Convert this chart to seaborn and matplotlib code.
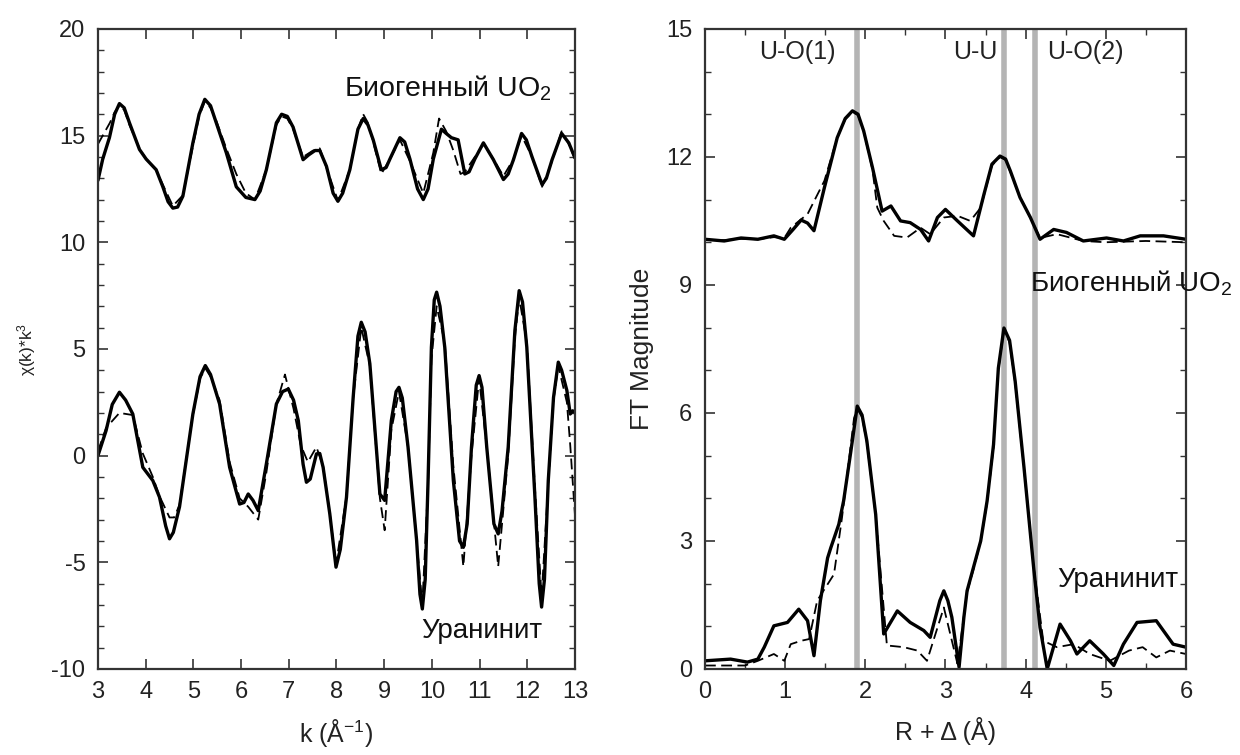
import numpy as np
import pandas as pd
import matplotlib
matplotlib.use("Agg")
import matplotlib.pyplot as plt
import seaborn as sns
from matplotlib.ticker import MultipleLocator

# --- EXAFS chi(k)*k^3, biogenic UO2 (offset curve on top) ---
k_bio = [3.0, 3.1, 3.24, 3.35, 3.45, 3.55, 3.66, 3.87, 4.01, 4.22, 4.36, 4.47, 4.57, 4.67, 4.78,
         4.99, 5.12, 5.24, 5.36, 5.48, 5.69, 5.9, 6.1, 6.29, 6.4, 6.53, 6.74, 6.85, 6.97, 7.09,
         7.30, 7.42, 7.55, 7.65, 7.79, 7.93, 8.03, 8.13, 8.28, 8.45, 8.56, 8.66, 8.77, 8.94, 9.04,
         9.12, 9.33, 9.43, 9.54, 9.7, 9.82, 9.92, 10.03, 10.2, 10.3, 10.41, 10.55, 10.69, 10.78,
         10.9, 11.08, 11.29, 11.5, 11.6, 11.71, 11.88, 11.98, 12.1, 12.31, 12.4, 12.52, 12.72,
         12.87, 13.0]
chi_bio = [12.9, 13.9, 14.9, 16.0, 16.5, 16.3, 15.6, 14.35, 13.9, 13.4, 12.6, 11.9, 11.6, 11.65, 12.16,
           14.66, 16.0, 16.7, 16.4, 15.6, 14.2, 12.6, 12.1, 12.0, 12.4, 13.4, 15.6, 16.0, 15.9, 15.4,
           13.87, 14.1, 14.3, 14.3, 13.56, 12.3, 11.92, 12.3, 13.4, 15.3, 15.8, 15.5, 14.8, 13.4, 13.5,
           13.9, 14.9, 14.7, 13.9, 12.5, 12.0, 12.5, 13.9, 15.3, 15.1, 14.9, 14.8, 13.2, 13.3,
           13.9, 14.66, 13.87, 12.94, 13.2, 13.87, 15.1, 14.8, 14.0, 12.7, 13.0, 13.87, 15.1,
           14.66, 13.95]

k_bio_fit = [3.0, 3.1, 3.25, 3.35, 3.45, 3.55, 3.66, 3.87, 4.01, 4.22, 4.36, 4.57, 4.78, 4.99, 5.12,
             5.24, 5.36, 5.48, 5.69, 5.9, 6.1, 6.29, 6.53, 6.74, 6.85, 6.97, 7.09, 7.30, 7.51, 7.65,
             7.79, 8.03, 8.28, 8.45, 8.56, 8.66, 8.77, 8.94, 9.12, 9.33, 9.54, 9.82, 10.03, 10.15,
             10.3, 10.45, 10.6, 10.69, 10.9, 11.08, 11.29, 11.5, 11.71, 11.88, 12.1, 12.31, 12.52,
             12.72, 12.87, 13.0]
chi_bio_fit = [14.6, 15.0, 15.6, 16.1, 16.4, 16.2, 15.5, 14.4, 13.9, 13.4, 12.7, 11.7, 12.2, 14.5, 15.9,
               16.6, 16.3, 15.7, 14.4, 13.2, 12.3, 12.0, 13.4, 15.5, 15.9, 15.8, 15.3, 14.0, 14.3, 14.4,
               13.5, 11.95, 13.4, 15.3, 16.0, 15.6, 14.7, 13.2, 13.9, 14.8, 13.8, 12.3, 14.2, 15.8,
               15.2, 14.3, 13.2, 13.3, 14.0, 14.6, 13.9, 13.1, 13.9, 15.0, 14.0, 12.6, 13.8,
               15.2, 14.6, 13.9]

# --- uraninite ---
k_ur = [3.0, 3.17, 3.3, 3.45, 3.58, 3.73, 3.94, 4.15, 4.29, 4.42, 4.5, 4.58, 4.71, 4.99, 5.14,
        5.25, 5.36, 5.55, 5.76, 5.97, 6.06, 6.15, 6.25, 6.36, 6.53, 6.74, 6.87, 6.99, 7.1, 7.2,
        7.3, 7.37, 7.45, 7.58, 7.65, 7.72, 7.86, 7.99, 8.08, 8.21, 8.35, 8.45, 8.52, 8.6, 8.7,
        8.91, 9.01, 9.15, 9.25, 9.31, 9.38, 9.5, 9.68, 9.75, 9.8, 9.86, 9.92, 9.99, 10.05, 10.1,
        10.17, 10.27, 10.45, 10.58, 10.66, 10.74, 10.83, 10.93, 10.99, 11.05, 11.15, 11.3, 11.39,
        11.47, 11.6, 11.74, 11.83, 11.9, 11.99, 12.16, 12.25, 12.3, 12.36, 12.44, 12.55, 12.65,
        12.72, 12.83, 12.9, 12.95, 13.0]
chi_ur = [0.0, 1.17, 2.4, 2.97, 2.6, 1.95, -0.55, -1.17, -1.95, -3.3, -3.9, -3.6, -2.4, 1.95, 3.7,
          4.22, 3.8, 2.42, -0.55, -2.27, -2.2, -1.8, -2.1, -2.58, -0.39, 2.42, 3.0, 3.12, 2.6, 1.64,
          -0.4, -1.25, -1.1, 0.08, 0.1, -0.55, -2.73, -5.23, -4.4, -1.95, 2.73, 5.6, 6.25, 5.8, 4.3,
          -1.8, -2.1, 1.64, 3.0, 3.2, 2.7, 0.4, -3.98, -6.5, -7.19, -5.8, -1.17, 5.08, 7.3, 7.66,
          7.0, 5.08, -1.17, -4.0, -4.3, -3.2, 0.4, 3.3, 3.75, 3.2, 0.4, -3.2, -3.67,
          -2.6, 0.4, 5.86, 7.73, 7.2, 5.08, -1.95, -6.0, -7.1, -5.8, -1.17, 2.73, 4.38,
          4.0, 3.05, 1.95, 2.1, 2.03]

k_ur_fit = [3.0, 3.17, 3.45, 3.73, 3.94, 4.15, 4.29, 4.5, 4.6, 4.71, 4.99, 5.14, 5.25, 5.36, 5.55,
            5.76, 5.97, 6.15, 6.36, 6.53, 6.74, 6.92, 7.1, 7.25, 7.4, 7.58, 7.72, 7.86, 7.99, 8.21,
            8.35, 8.52, 8.7, 8.91, 9.01, 9.15, 9.31, 9.5, 9.68, 9.8, 9.92, 9.99, 10.1, 10.27, 10.45,
            10.66, 10.83, 10.99, 11.15, 11.39, 11.6, 11.74, 11.83, 11.99, 12.16, 12.3, 12.44, 12.55,
            12.65, 12.83, 12.9, 13.0]
chi_ur_fit = [0.2, 1.3, 2.0, 1.9, 0.1, -1.0, -1.9, -2.9, -2.9, -2.3, 1.9, 3.6, 4.1, 3.7, 2.6,
              -0.3, -2.0, -2.4, -3.0, -0.8, 2.4, 3.8, 2.2, 0.5, -0.3, 0.4, -0.5, -2.7, -5.1, -1.9,
              2.7, 6.0, 4.2, -2.0, -3.5, 1.2, 3.0, 0.4, -4.0, -7.0, -1.3, 4.5, 7.0, 5.3, -0.5,
              -5.2, 0.0, 3.6, 0.4, -5.2, 0.0, 5.5, 7.4, 5.3, -1.5, -6.6, -1.3, 2.6,
              4.2, 2.5, 0.5, -2.8]

# --- Fourier transform magnitude ---
r_bio = [0.0, 0.24, 0.45, 0.66, 0.86, 0.99, 1.1, 1.2, 1.28, 1.36, 1.49, 1.65, 1.75, 1.84, 1.91,
         1.98, 2.09, 2.21, 2.32, 2.44, 2.56, 2.69, 2.79, 2.9, 3.0, 3.15, 3.35, 3.48, 3.58, 3.68,
         3.75, 3.81, 3.93, 4.06, 4.18, 4.35, 4.51, 4.72, 5.01, 5.22, 5.43, 5.72, 6.0]
ft_bio = [10.07, 10.03, 10.1, 10.07, 10.15, 10.07, 10.3, 10.52, 10.45, 10.27, 11.28, 12.45, 12.9, 13.08, 13.0,
          12.61, 11.75, 10.73, 10.85, 10.5, 10.46, 10.3, 10.03, 10.58, 10.77, 10.5, 10.15, 11.12, 11.83, 12.02,
          11.95, 11.67, 11.05, 10.58, 10.07, 10.3, 10.23, 10.03, 10.1, 10.03, 10.15, 10.15, 10.07]

r_bio_fit = [0.0, 0.24, 0.45, 0.66, 0.86, 0.99, 1.07, 1.28, 1.49, 1.65, 1.75, 1.84, 1.91, 1.98, 2.09,
             2.15, 2.23, 2.36, 2.52, 2.69, 2.81, 2.98, 3.15, 3.31, 3.44, 3.58, 3.68, 3.75, 3.81, 3.93,
             4.06, 4.18, 4.39, 4.72, 5.0, 5.5, 6.0]
ft_bio_fit = [10.05, 10.05, 10.08, 10.07, 10.12, 10.1, 10.34, 10.66, 11.44, 12.45, 12.88, 13.05, 12.98, 12.6, 11.7,
              10.81, 10.5, 10.15, 10.11, 10.34, 10.19, 10.58, 10.62, 10.5, 10.81, 11.8, 12.0, 11.93, 11.65, 11.05,
              10.58, 10.1, 10.19, 10.03, 10.0, 10.03, 10.0]

r_ur = [0.0, 0.32, 0.53, 0.66, 0.74, 0.86, 1.03, 1.17, 1.28, 1.36, 1.44, 1.53, 1.57, 1.67, 1.73,
        1.82, 1.9, 1.96, 2.02, 2.13, 2.23, 2.4, 2.56, 2.73, 2.81, 2.93, 2.98, 3.03, 3.08, 3.17,
        3.23, 3.27, 3.36, 3.44, 3.52, 3.6, 3.66, 3.73, 3.8, 3.87, 3.98, 4.1, 4.18, 4.27, 4.43,
        4.56, 4.64, 4.8, 4.97, 5.1, 5.22, 5.39, 5.63, 5.84, 6.0]
ft_ur = [0.19, 0.23, 0.16, 0.23, 0.51, 1.01, 1.09, 1.4, 1.13, 0.31, 1.6, 2.6, 2.84, 3.39, 3.94,
         5.1, 6.16, 5.95, 5.34, 3.62, 0.82, 1.36, 1.09, 0.9, 0.74, 1.6, 1.83, 1.6, 1.21, 0.04,
         1.21, 1.83, 2.45, 3.0, 3.94, 5.26, 7.05, 7.99, 7.7, 6.74, 4.72, 2.38, 0.97, 0.0, 1.05,
         0.66, 0.35, 0.66, 0.35, 0.08, 0.58, 1.09, 1.13, 0.58, 0.51]

r_ur_fit = [0.0, 0.5, 0.66, 0.86, 0.99, 1.07, 1.2, 1.3, 1.4, 1.61, 1.71, 1.86, 1.9, 1.96, 2.02,
            2.13, 2.27, 2.48, 2.65, 2.77, 2.98, 3.15, 3.27, 3.36, 3.44, 3.52, 3.6, 3.66, 3.73, 3.8,
            3.87, 3.98, 4.1, 4.22, 4.39, 4.6, 4.8, 5.05, 5.29, 5.46, 5.63, 5.8, 6.0]
ft_ur_fit = [0.08, 0.08, 0.19, 0.35, 0.19, 0.58, 0.66, 0.7, 1.6, 2.22, 3.55, 5.88, 6.1, 5.9, 5.3,
             3.6, 0.55, 0.51, 0.43, 0.19, 1.44, 0.12, 1.8, 2.4, 3.0, 3.9, 5.2, 7.0, 7.95, 7.65,
             6.7, 4.7, 2.4, 0.66, 0.51, 0.58, 0.35, 0.19, 0.43, 0.51, 0.27, 0.43, 0.35]

shells = [1.9, 3.73, 4.12]
shell_names = ["U-O(1)", "U-U", "U-O(2)"]
shell_label_x = [1.15, 3.37, 4.74]

sns.set_theme(style="ticks")
plt.rcParams['font.family'] = ['Liberation Sans', 'DejaVu Sans']
plt.rcParams['mathtext.fontset'] = 'custom'
plt.rcParams['mathtext.rm'] = 'Liberation Sans'
plt.rcParams['mathtext.it'] = 'Liberation Sans:italic'
plt.rcParams['axes.unicode_minus'] = False

fig = plt.figure(figsize=(12.4, 7.55), dpi=100)
ax1 = fig.add_axes([0.079, 0.114, 0.3847, 0.8477])
ax2 = fig.add_axes([0.5685, 0.114, 0.3879, 0.8477])

frame_col = '#333333'
txt_col = '#222222'
for ax in (ax1, ax2):
    for s in ax.spines.values():
        s.set_color(frame_col)
        s.set_linewidth(1.6)
    ax.tick_params(which='both', direction='in', top=True, right=True, color=frame_col,
                   labelsize=17, labelcolor=txt_col, pad=9)
    ax.tick_params(which='major', length=7, width=1.2)
    ax.tick_params(which='minor', length=4, width=1.0)

lw_data, lw_fit = 2.4, 1.3
fit_dash = (0, (6, 3))

# left panel
sns.lineplot(x=k_bio, y=chi_bio, ax=ax1, color='black', lw=lw_data, sort=False, estimator=None)
sns.lineplot(x=k_bio_fit, y=chi_bio_fit, ax=ax1, color='black', lw=lw_fit, linestyle=fit_dash, sort=False, estimator=None)
sns.lineplot(x=k_ur, y=chi_ur, ax=ax1, color='black', lw=lw_data, sort=False, estimator=None)
sns.lineplot(x=k_ur_fit, y=chi_ur_fit, ax=ax1, color='black', lw=lw_fit, linestyle=fit_dash, sort=False, estimator=None)
ax1.set_xlim(3, 13)
ax1.set_ylim(-10, 20)
ax1.xaxis.set_major_locator(MultipleLocator(1))
ax1.yaxis.set_major_locator(MultipleLocator(5))
ax1.yaxis.set_minor_locator(MultipleLocator(1))
ax1.set_xlabel(r"k (Å$^{-1}$)", fontsize=18, color=txt_col, labelpad=10)
ax1.set_ylabel(r"χ(k)*k$^3$", fontsize=12.5, color=txt_col, labelpad=10)
ax1.text(8.15, 17.2, r"Биогенный UO$_2$", fontsize=20.5, color='#111111', va='center')
ax1.text(9.78, -8.2, "Уранинит", fontsize=20, color='#111111', va='center')

# right panel
for xs in shells:
    ax2.axvline(xs, color='#b4b4b4', lw=4, zorder=1)
sns.lineplot(x=r_bio, y=ft_bio, ax=ax2, color='black', lw=lw_data, sort=False, estimator=None)
sns.lineplot(x=r_bio_fit, y=ft_bio_fit, ax=ax2, color='black', lw=lw_fit, linestyle=fit_dash, sort=False, estimator=None)
sns.lineplot(x=r_ur, y=ft_ur, ax=ax2, color='black', lw=lw_data, sort=False, estimator=None)
sns.lineplot(x=r_ur_fit, y=ft_ur_fit, ax=ax2, color='black', lw=lw_fit, linestyle=fit_dash, sort=False, estimator=None)
ax2.set_xlim(0, 6)
ax2.set_ylim(0, 15)
ax2.xaxis.set_major_locator(MultipleLocator(1))
ax2.xaxis.set_minor_locator(MultipleLocator(0.5))
ax2.yaxis.set_major_locator(MultipleLocator(3))
ax2.yaxis.set_minor_locator(MultipleLocator(1))
ax2.set_xlabel("R + Δ (Å)", fontsize=18, color=txt_col, labelpad=10)
ax2.set_ylabel("FT Magnitude", fontsize=19, color=txt_col, labelpad=9)
for name, xl in zip(shell_names, shell_label_x):
    ax2.text(xl, 14.45, name, fontsize=18, color=txt_col, ha='center', va='center')
ax2.text(4.05, 9.05, r"Биогенный UO$_2$", fontsize=20, color='#111111', va='center', clip_on=False)
ax2.text(4.39, 2.09, "Уранинит", fontsize=20, color='#111111', va='center')

plt.savefig("out.png", dpi=100)
plt.close()
